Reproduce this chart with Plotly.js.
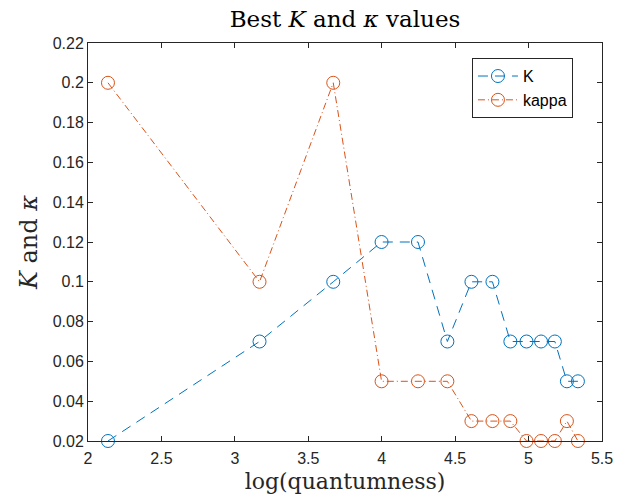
<!DOCTYPE html>
<html>
<head>
<meta charset="utf-8">
<script src="https://cdn.plot.ly/plotly-3.0.1.min.js"></script>
<style>html,body{margin:0;padding:0;background:#fff;}#chart{width:625px;height:499px;}</style>
</head>
<body>
<div id="chart"></div>
<script>
const logQ = [2.136, 3.168, 3.670, 3.999, 4.247, 4.447, 4.611, 4.754, 4.876, 4.986, 5.085, 5.179, 5.261, 5.336];
const bestK = [0.02, 0.07, 0.10, 0.12, 0.12, 0.07, 0.10, 0.10, 0.07, 0.07, 0.07, 0.07, 0.05, 0.05];
const bestKappa = [0.20, 0.10, 0.20, 0.05, 0.05, 0.05, 0.03, 0.03, 0.03, 0.02, 0.02, 0.02, 0.03, 0.02];
const yTickVals = [0.02, 0.04, 0.06, 0.08, 0.10, 0.12, 0.14, 0.16, 0.18, 0.20, 0.22];
const yTickText = ['0.02', '0.04', '0.06', '0.08', '0.1', '0.12', '0.14', '0.16', '0.18', '0.2', '0.22'];
const xTickVals = [2, 2.5, 3, 3.5, 4, 4.5, 5, 5.5];
const xTickText = ['2', '2.5', '3', '3.5', '4', '4.5', '5', '5.5'];

const axisCol = '#262626';
const serif = '"DejaVu Serif", "Liberation Serif", serif';
const sans = '"Liberation Sans", Arial, sans-serif';

const traces = [
  {
    x: logQ, y: bestK, name: 'K', type: 'scatter', mode: 'lines+markers',
    line: {color: '#0072BD', width: 1, dash: '10px,7px'},
    marker: {symbol: 'circle-open', size: 13, color: '#0072BD', line: {width: 1, color: '#0072BD'}},
    cliponaxis: false
  },
  {
    x: logQ, y: bestKappa, name: 'kappa', type: 'scatter', mode: 'lines+markers',
    line: {color: '#D95319', width: 1, dash: '7px,3px,1px,3px'},
    marker: {symbol: 'circle-open', size: 13, color: '#D95319', line: {width: 1, color: '#D95319'}},
    cliponaxis: false
  }
];

const layout = {
  width: 625, height: 499,
  margin: {l: 88, r: 23, t: 43, b: 58},
  paper_bgcolor: '#fff', plot_bgcolor: '#fff',
  showlegend: true,
  title: {
    text: 'Best <i>K</i> and <i>κ</i> values',
    font: {family: serif, size: 23, color: '#000'},
    x: 0.552, xanchor: 'center', y: 0.962, yanchor: 'middle'
  },
  xaxis: {
    range: [2, 5.5], tickvals: xTickVals, ticktext: xTickText,
    showgrid: false, zeroline: false, showline: true, linecolor: axisCol, linewidth: 1,
    mirror: 'ticks', ticks: 'inside', ticklen: 5, tickcolor: axisCol,
    ticklabelstandoff: 3,
    tickfont: {family: sans, size: 16, color: axisCol},
    title: {text: 'log(quantumness)', font: {family: serif, size: 22, color: axisCol}, standoff: 7}
  },
  yaxis: {
    range: [0.02, 0.22], tickvals: yTickVals, ticktext: yTickText,
    showgrid: false, zeroline: false, showline: true, linecolor: axisCol, linewidth: 1,
    mirror: 'ticks', ticks: 'inside', ticklen: 5, tickcolor: axisCol,
    tickfont: {family: sans, size: 16, color: axisCol},
    title: {text: '<i>K</i> and <i>κ</i>', font: {family: serif, size: 24, color: axisCol}, standoff: 8}
  },
  legend: {
    x: 0.747, y: 0.962, xanchor: 'left', yanchor: 'top',
    bgcolor: '#fff', bordercolor: axisCol, borderwidth: 1,
    font: {family: sans, size: 16, color: '#000'},
    tracegroupgap: 0, itemwidth: 40
  }
};

Plotly.newPlot('chart', traces, layout, {displayModeBar: false, staticPlot: true});
</script>
</body>
</html>
